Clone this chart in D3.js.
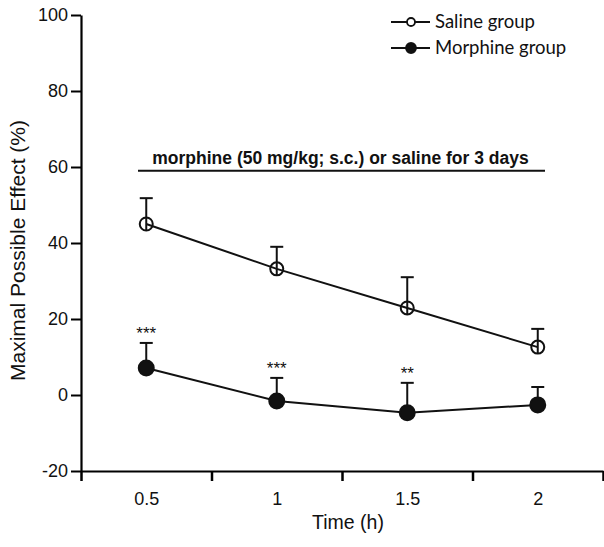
<!DOCTYPE html>
<html><head><meta charset="utf-8">
<script src="https://cdn.jsdelivr.net/npm/d3@7"></script>
<style>body{margin:0;background:#fff}svg{display:block}</style>
</head><body>
<svg id="c" width="604" height="547"></svg>
<script>
const times = [0.5, 1, 1.5, 2];
const timeLabels = ["0.5", "1", "1.5", "2"];
const salineMean = [45, 33.2, 22.9, 12.6];
const salineErr = [6.8, 5.8, 8.1, 4.8];
const morphineMean = [7.1, -1.6, -4.7, -2.6];
const morphineErr = [6.6, 6.1, 7.9, 4.7];
const morphineStars = ["***", "***", "**", ""];
const yTicks = [-20, 0, 20, 40, 60, 80, 100];
const xBoundaries = [0.25, 0.75, 1.25, 1.75, 2.25];
const seriesNames = ["Saline group", "Morphine group"];
const bannerText = "morphine (50 mg/kg; s.c.) or saline for 3 days";

const svg = d3.select("#c");
const x = d3.scaleLinear().domain([0.25, 2.25]).range([81, 603]);
const y = d3.scaleLinear().domain([-20, 100]).range([471, 15]);
const F = "Liberation Sans, Arial, Helvetica, sans-serif";

// y axis
const ya = svg.append("g").attr("transform", "translate(81,0)")
  .call(d3.axisLeft(y).tickValues(yTicks).tickSize(10).tickPadding(3).tickSizeOuter(0)
    .tickFormat(d => String(d)));
ya.select(".domain").attr("stroke-width", 2.2);
ya.selectAll(".tick line").attr("stroke-width", 2);
ya.selectAll("text").attr("font-family", F).attr("font-size", 18).attr("fill", "#111");

// x axis boundary ticks
const xa = svg.append("g").attr("transform", "translate(0,471)")
  .call(d3.axisBottom(x).tickValues(xBoundaries).tickSize(10).tickFormat("").tickSizeOuter(0));
xa.select(".domain").attr("stroke-width", 2.2);
xa.selectAll(".tick line").attr("stroke-width", 2.5);
const xl = svg.append("g").attr("transform", "translate(0,471)")
  .call(d3.axisBottom(x).tickValues(times).tickSize(0).tickPadding(21).tickFormat((d,i)=>timeLabels[i]));
xl.select(".domain").remove();
xl.selectAll("text").attr("font-family", F).attr("font-size", 18).attr("fill", "#111");

// axis titles
svg.append("text").attr("transform", "translate(25,250.5) rotate(-90)")
  .attr("text-anchor", "middle").attr("font-family", F).attr("font-size", 21).attr("fill", "#111")
  .text("Maximal Possible Effect (%)");
svg.append("text").attr("x", 348).attr("y", 529).attr("text-anchor", "middle")
  .attr("font-family", F).attr("font-size", 19.5).attr("fill", "#111").text("Time (h)");

// banner
svg.append("line").attr("x1", 138).attr("x2", 545).attr("y1", y(59)).attr("y2", y(59))
  .attr("stroke", "#111").attr("stroke-width", 2);
svg.append("text").attr("x", 340.5).attr("y", y(60.8)).attr("text-anchor", "middle")
  .attr("font-family", F).attr("font-weight", "bold").attr("font-size", 17.5).attr("fill", "#111")
  .text(bannerText);

const line = d3.line().x(d => x(d[0])).y(d => y(d[1]));
function drawSeries(means, errs, filled) {
  const pts = times.map((t, i) => [t, means[i], errs[i]]);
  const g = svg.append("g");
  g.append("path").datum(pts).attr("d", line).attr("fill", "none")
    .attr("stroke", "#111").attr("stroke-width", 2);
  pts.forEach(p => {
    const cx = x(p[0]), cy = y(p[1]), top = y(p[1] + p[2]);
    g.append("line").attr("x1", cx).attr("x2", cx).attr("y1", filled ? cy : cy + 6.5).attr("y2", top)
      .attr("stroke", "#111").attr("stroke-width", 2);
    g.append("line").attr("x1", cx - 6.5).attr("x2", cx + 6.5).attr("y1", top).attr("y2", top)
      .attr("stroke", "#111").attr("stroke-width", 2);
    g.append("circle").attr("cx", cx).attr("cy", cy).attr("r", filled ? 7.5 : 6.5)
      .attr("fill", filled ? "#111" : "none").attr("stroke", "#111").attr("stroke-width", 2);
  });
}
drawSeries(salineMean, salineErr, false);
drawSeries(morphineMean, morphineErr, true);

// significance stars
svg.append("g").selectAll("text").data(times).join("text")
  .attr("x", d => x(d)).attr("y", (d, i) => y(morphineMean[i] + morphineErr[i]) - 4)
  .attr("text-anchor", "middle").attr("font-family", F).attr("font-size", 17).attr("fill", "#111")
  .text((d, i) => morphineStars[i]);

// legend
const LF = "Lato, Calibri, sans-serif";
seriesNames.forEach((name, i) => {
  const ly = 22 + i * 26;
  svg.append("line").attr("x1", 391).attr("x2", 430).attr("y1", ly).attr("y2", ly)
    .attr("stroke", "#111").attr("stroke-width", 2);
  svg.append("circle").attr("cx", 411).attr("cy", ly).attr("r", i === 0 ? 4 : 5)
    .attr("fill", i === 0 ? "#fff" : "#111").attr("stroke", "#111").attr("stroke-width", 1.8);
  svg.append("text").attr("x", 435).attr("y", ly + 6).attr("font-family", LF)
    .attr("font-size", 18.5).attr("fill", "#111").text(name);
});
</script>
</body></html>
